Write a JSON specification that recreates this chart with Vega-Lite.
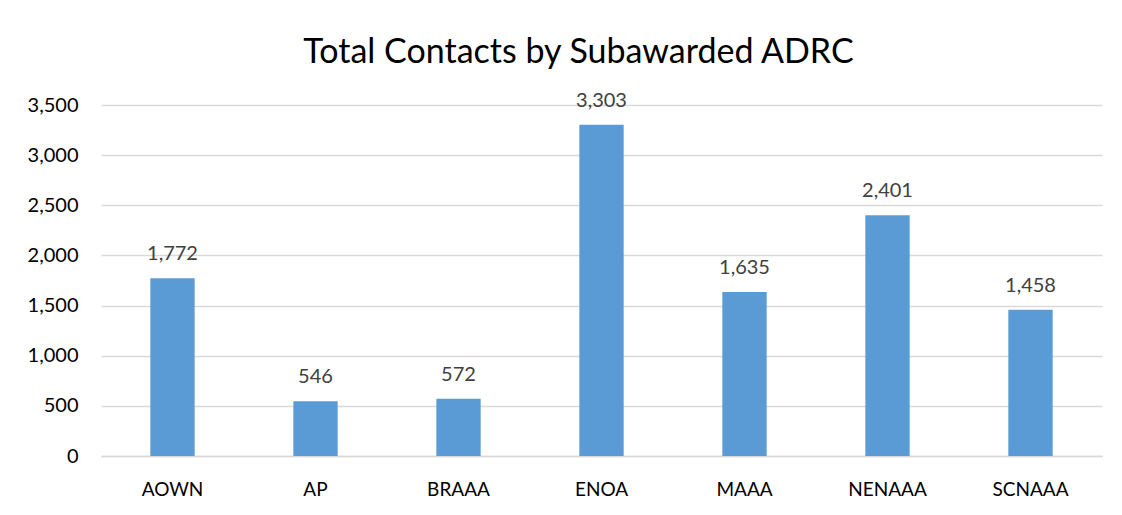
{
  "$schema": "https://vega.github.io/schema/vega-lite/v6.json",
  "width": 1001,
  "height": 351,
  "autosize": {"type": "none"},
  "padding": {"left": 101, "top": 105, "right": 20, "bottom": 59},
  "background": "white",
  "title": {
    "text": "Total Contacts by Subawarded ADRC",
    "anchor": "middle",
    "frame": "group",
    "dx": -23,
    "offset": 21,
    "font": "Lato",
    "fontSize": 34,
    "fontWeight": "normal",
    "color": "#000000"
  },
  "data": {
    "values": [
      {"ADRC": "AOWN", "Contacts": 1772},
      {"ADRC": "AP", "Contacts": 546},
      {"ADRC": "BRAAA", "Contacts": 572},
      {"ADRC": "ENOA", "Contacts": 3303},
      {"ADRC": "MAAA", "Contacts": 1635},
      {"ADRC": "NENAAA", "Contacts": 2401},
      {"ADRC": "SCNAAA", "Contacts": 1458}
    ]
  },
  "encoding": {
    "x": {
      "field": "ADRC",
      "type": "nominal",
      "sort": null,
      "scale": {"paddingInner": 0.69, "paddingOuter": 0.345},
      "axis": {
        "title": null,
        "labelAngle": 0,
        "ticks": false,
        "domain": true,
        "domainColor": "#D9D9D9",
        "domainWidth": 1.5,
        "labelFont": "Lato",
        "labelFontSize": 19,
        "labelColor": "#000000",
        "labelPadding": 24
      }
    },
    "y": {
      "field": "Contacts",
      "type": "quantitative",
      "scale": {"domain": [0, 3500], "nice": false},
      "axis": {
        "title": null,
        "tickCount": 7,
        "format": ",.0f",
        "ticks": false,
        "domain": false,
        "grid": true,
        "gridColor": "#D9D9D9",
        "gridWidth": 1.5,
        "labelFont": "Lato",
        "labelFontSize": 20,
        "labelColor": "#000000",
        "labelPadding": 23
      }
    }
  },
  "layer": [
    {"mark": {"type": "bar", "color": "#5B9BD5"}},
    {
      "mark": {"type": "text", "baseline": "alphabetic", "dy": -18, "font": "Lato", "fontSize": 20, "letterSpacing": 1, "color": "#404040"},
      "encoding": {"text": {"field": "Contacts", "type": "quantitative", "format": ",.0f"}}
    }
  ],
  "config": {"view": {"stroke": null}}
}
